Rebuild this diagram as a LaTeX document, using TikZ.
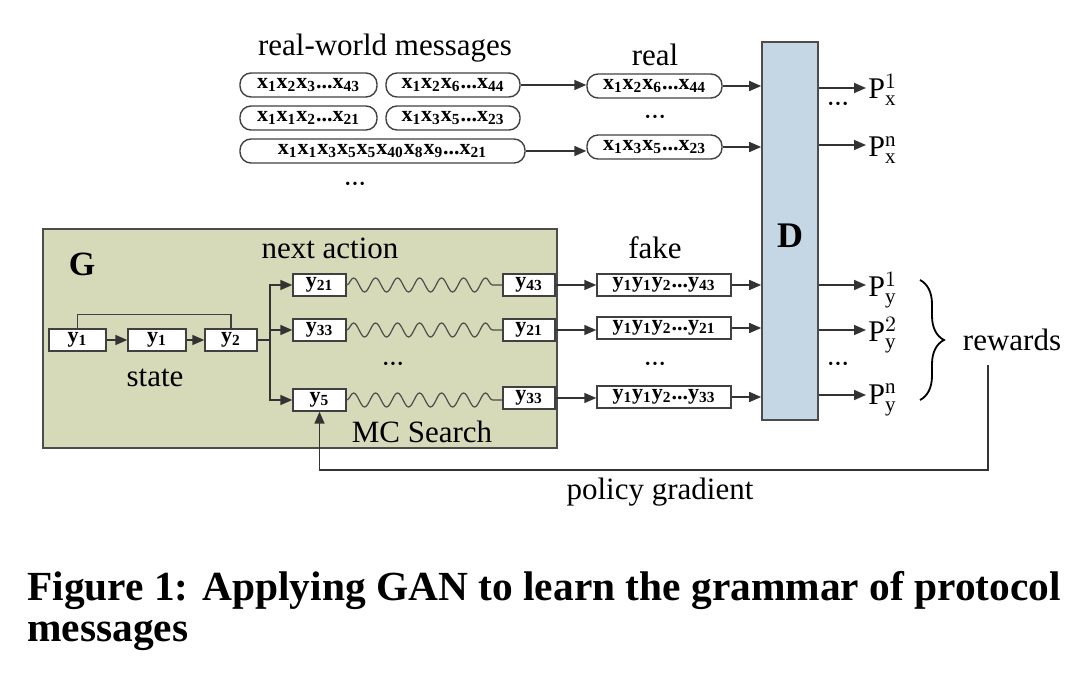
\documentclass[tikz,border=0pt]{standalone}
\usepackage{fontspec}
\setmainfont{Liberation Serif}
\usetikzlibrary{decorations.pathmorphing,decorations.pathreplacing,arrows.meta}
\newcommand{\sbb}[1]{\textsubscript{#1}}
\newcommand{\bdots}{\textbullet\,\textbullet\,\textbullet}
\begin{document}
\begin{tikzpicture}[x=0.5pt,y=-0.5pt,
  msg/.style={draw=black!75,rounded corners=5.5pt,line width=0.7pt,minimum height=12pt,inner sep=1pt,font=\bfseries\fontsize{11}{11}\selectfont},
  sq/.style={draw=black!75,fill=white,line width=0.7pt,minimum height=11pt,inner sep=0.5pt,font=\bfseries\fontsize{11}{11}\selectfont},
  lab/.style={font=\fontsize{15.5}{15.5}\selectfont},
  arr/.style={-{Triangle[length=6pt,width=5pt]},line width=0.8pt,draw=black!80},
  dots/.style={font=\fontsize{7}{7}\selectfont},
  wav/.style={draw=black!70,line width=0.6pt,decorate,decoration={snake,segment length=11pt,amplitude=3.5pt}}]
\useasboundingbox (0,0) rectangle (1088,678);
% G box
\node[draw=black!70,fill={rgb,255:red,214;green,218;blue,184},line width=0.8pt,minimum width=257pt,minimum height=109.5pt,inner sep=0pt] (G) at (300,338.5) {};
\node[font=\bfseries\fontsize{17}{17}\selectfont] (Gl) at (82,264) {G};
% D
\node[draw=black!70,fill={rgb,255:red,197;green,214;blue,229},line width=0.8pt,minimum width=28pt,minimum height=189pt,inner sep=0pt] (D) at (790,231) {};
\node[font=\bfseries\fontsize{18}{18}\selectfont] (Dl) at (790,236) {D};
% labels
\node[lab] (rwm) at (385,48) {real-world messages};
\node[lab] (real) at (655,55) {real};
\node[lab] (fake) at (655,248) {fake};
\node[lab] (na) at (330,248) {next action};
\node[lab] (st) at (155,378) {state};
\node[lab] (mcs) at (422,432) {MC Search};
\node[lab] (pg) at (660,492) {policy gradient};
\node[lab] (rw) at (1012,340) {rewards};
% messages
\node[msg,minimum width=68.5pt] (m1) at (308.5,85) {x\sbb1x\sbb2x\sbb3...x\sbb{43}};
\node[msg,minimum width=67pt] (m2) at (453,85) {x\sbb1x\sbb2x\sbb6...x\sbb{44}};
\node[msg,minimum width=68.5pt] (m3) at (308.5,118) {x\sbb1x\sbb1x\sbb2...x\sbb{21}};
\node[msg,minimum width=67pt] (m4) at (453,118) {x\sbb1x\sbb3x\sbb5...x\sbb{23}};
\node[msg,minimum width=142.5pt] (m5) at (382.5,151) {x\sbb1x\sbb1x\sbb3x\sbb5x\sbb5x\sbb{40}x\sbb8x\sbb9...x\sbb{21}};
\node[dots] (d1) at (355,185) {\bdots};
\node[msg,minimum width=67.5pt] (r1) at (654.5,86) {x\sbb1x\sbb2x\sbb6...x\sbb{44}};
\node[dots] (d2) at (655,118) {\bdots};
\node[msg,minimum width=67.5pt] (r2) at (654.5,147) {x\sbb1x\sbb3x\sbb5...x\sbb{23}};
\draw[arr] (m2) -- (r1.west |- m2);
\draw[arr] (m5.east) -- (r2.west |- m5.east);
\draw[arr] (r1) -- (r1 -| D.west);
\draw[arr] (r2) -- (r2 -| D.west);
% state
\node[sq,minimum width=28.5pt] (s1) at (77.5,340) {y\sbb1};
\node[sq,minimum width=29pt] (s2) at (157,340) {y\sbb1};
\node[sq,minimum width=26pt] (s3) at (231,340) {y\sbb2};
\draw[arr] (s1) -- (s2);
\draw[arr] (s2) -- (s3);
\draw[draw=black!75,line width=0.7pt] (s1.north) -- ++(0,-14) -| (s3.north);
% next
\node[sq,minimum width=26.5pt] (a1) at (319.5,285) {y\sbb{21}};
\node[sq,minimum width=26.5pt] (a2) at (319.5,330) {y\sbb{33}};
\node[sq,minimum width=26.5pt] (a3) at (319.5,400) {y\sbb5};
\node[sq,minimum width=26pt] (e1) at (529,285) {y\sbb{43}};
\node[sq,minimum width=26pt] (e2) at (529,330) {y\sbb{21}};
\node[sq,minimum width=26pt] (e3) at (529,398) {y\sbb{33}};
\coordinate (br) at (270,340);
\draw[draw=black!80,line width=0.8pt] (s3.east) -- (br);
\draw[arr] (br) |- (a1.west);
\draw[arr] (br) -- (br |- a2.west) -- (a2.west);
\draw[arr] (br) |- (a3.west);
\draw[wav] (a1.east) -- (e1.west);
\draw[wav] (a2.east) -- (e2.west);
\draw[wav] (a3.east) -- (e3.west |- a3.east);
\node[dots] (d3) at (393,365) {\bdots};
% fake
\node[sq,minimum width=67pt] (f1) at (664,285) {y\sbb1y\sbb1y\sbb2...y\sbb{43}};
\node[sq,minimum width=67pt] (f2) at (664,328) {y\sbb1y\sbb1y\sbb2...y\sbb{21}};
\node[dots] (d4) at (655,365) {\bdots};
\node[sq,minimum width=67pt] (f3) at (664,397) {y\sbb1y\sbb1y\sbb2...y\sbb{33}};
\draw[arr] (e1) -- (f1.west |- e1);
\draw[arr] (e2) -- (f2.west |- e2);
\draw[arr] (e3) -- (f3.west |- e3);
\draw[arr] (f1) -- (f1 -| D.west);
\draw[arr] (f2) -- (f2 -| D.west);
\draw[arr] (f3) -- (f3 -| D.west);
% outputs
\tikzset{pl/.style={font=\fontsize{15}{15}\selectfont,anchor=west,inner sep=1pt}}
\node[pl] (px1) at (866,90) {P$^{\scriptstyle 1}_{\scriptstyle\mathrm{x}}$};
\node[pl] (pxn) at (866,150) {P$^{\scriptstyle\mathrm{n}}_{\scriptstyle\mathrm{x}}$};
\node[pl] (py1) at (866,290) {P$^{\scriptstyle 1}_{\scriptstyle\mathrm{y}}$};
\node[pl] (py2) at (866,335) {P$^{\scriptstyle 2}_{\scriptstyle\mathrm{y}}$};
\node[pl] (pyn) at (866,400) {P$^{\scriptstyle\mathrm{n}}_{\scriptstyle\mathrm{y}}$};
\draw[arr] (D.east |- 0,88) -- (px1.west |- 0,88);
\draw[arr] (D.east |- 0,145) -- (pxn.west |- 0,145);
\draw[arr] (D.east |- 0,285) -- (py1.west |- 0,285);
\draw[arr] (D.east |- 0,330) -- (py2.west |- 0,330);
\draw[arr] (D.east |- 0,395) -- (pyn.west |- 0,395);
\node[dots] (d5) at (838,105) {\bdots};
\node[dots] (d6) at (838,365) {\bdots};
\draw[line width=0.9pt,decorate,decoration={brace,amplitude=12pt}] (920,280) -- (920,400);
% feedback
\coordinate (fb) at (988,365);
\draw[arr] (fb) -- (988,470) -| (a3.south);
% caption
\node[anchor=west,font=\bfseries\fontsize{20.7}{26}\selectfont,inner sep=0pt] (cap1) at (27,590) {Figure 1: Applying GAN to learn the grammar of protocol};
\node[anchor=west,font=\bfseries\fontsize{20.7}{26}\selectfont,inner sep=0pt] (cap2) at (27,635) {messages};
\end{tikzpicture}
\end{document}
